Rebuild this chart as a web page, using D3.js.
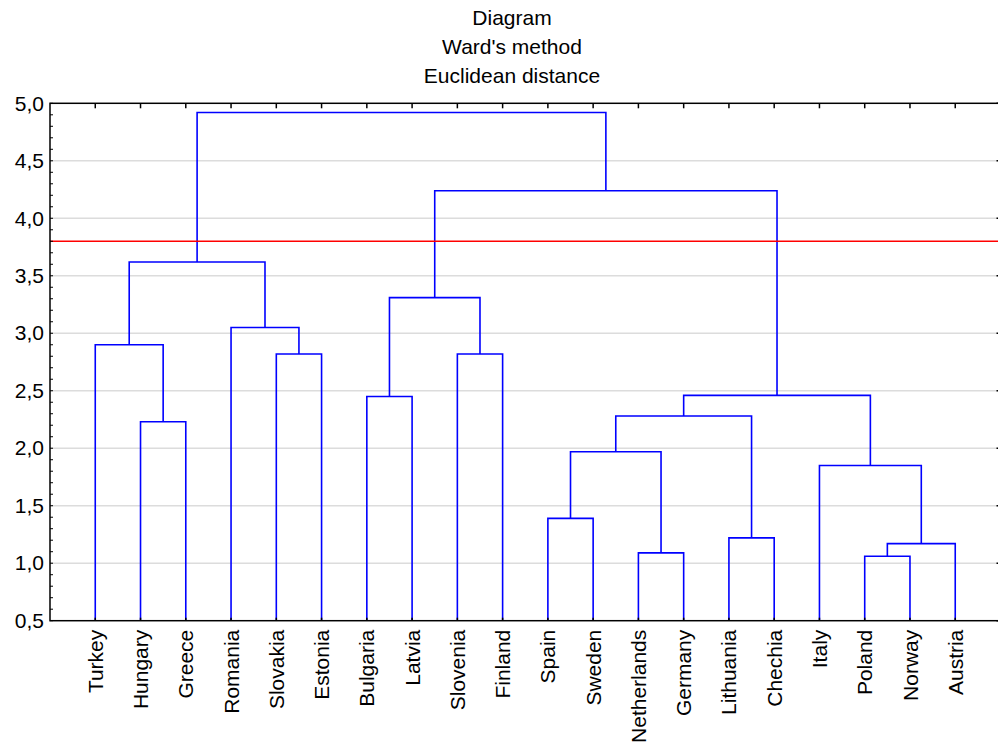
<!DOCTYPE html>
<html>
<head>
<meta charset="utf-8">
<script src="https://cdnjs.cloudflare.com/ajax/libs/d3/7.8.5/d3.min.js"></script>
<style>
  body { margin: 0; background: #fff; }
  svg { display: block; font-family: "Liberation Sans", Arial, sans-serif; }
</style>
</head>
<body>
<svg width="998" height="747"></svg>
<script>
// leaf order along the x axis
var leaves = ["Turkey", "Hungary", "Greece", "Romania", "Slovakia", "Estonia",
    "Bulgaria", "Latvia", "Slovenia", "Finland", "Spain", "Sweden",
    "Netherlands", "Germany", "Lithuania", "Chechia", "Italy", "Poland",
    "Norway", "Austria"];

// merges like R's hclust: negative = leaf (1-based), positive = earlier merge
var mergeLeft  = [-2, -1, -5, -4, 2, -7, -9, 6, -11, -13, 9, -15, 11, -18, 14, -17, 13, 8, 5];
var mergeRight = [-3,  1, -6,  3, 4, -8, -10, 7, -12, -14, 10, -16, 12, -19, -20, 15, 16, 17, 18];
var mergeHeight = [2.23, 2.90, 2.82, 3.05, 3.62, 2.45, 2.82, 3.31, 1.39, 1.09,
    1.97, 1.22, 2.28, 1.06, 1.17, 1.85, 2.46, 4.24, 4.92];

var cutHeight = 3.80;
var yTicks = [0.5, 1.0, 1.5, 2.0, 2.5, 3.0, 3.5, 4.0, 4.5, 5.0];
var titleLines = ["Diagram", "Ward's method", "Euclidean distance"];

var svg = d3.select("svg");
var plotLeft = 50, plotRight = 1000.5, plotTop = 103.3, plotBottom = 620.7;

var x = d3.scalePoint().domain(leaves).range([plotLeft, plotRight]).padding(1);
var y = d3.scaleLinear().domain([0.5, 5.0]).range([plotBottom, plotTop]);

// gridlines
svg.append("g")
    .selectAll("line")
    .data(yTicks.slice(1, -1))
    .enter().append("line")
    .attr("x1", plotLeft).attr("x2", plotRight)
    .attr("y1", d => y(d)).attr("y2", d => y(d))
    .attr("stroke", "#dcdcdc")
    .attr("stroke-width", 1.5);

// node positions: leaves first, then merges
var nodes = [];
function pos(id) {
    if (id < 0) return {x: x(leaves[-id - 1]), h: 0.5};
    return nodes[id - 1];
}
var links = [];
mergeHeight.forEach(function(h, i) {
    var a = pos(mergeLeft[i]), b = pos(mergeRight[i]);
    links.push({a: a, b: b, h: h});
    nodes.push({x: (a.x + b.x) / 2, h: h});
});

svg.append("g")
    .selectAll("path")
    .data(links)
    .enter().append("path")
    .attr("d", function(l) {
        return "M" + l.a.x + "," + y(l.a.h) + "V" + y(l.h) + "H" + l.b.x + "V" + y(l.b.h);
    })
    .attr("fill", "none")
    .attr("stroke", "#0000ff")
    .attr("stroke-width", 1.6);

// cut line
svg.append("line")
    .attr("x1", plotLeft).attr("x2", plotRight)
    .attr("y1", y(cutHeight)).attr("y2", y(cutHeight))
    .attr("stroke", "#ff0000")
    .attr("stroke-width", 1.6);

// y axis with minor ticks every 0.1
var yAxis = d3.axisLeft(y).tickValues(yTicks).tickSize(0).tickPadding(6)
    .tickFormat(d => d3.format(".1f")(d).replace(".", ","));
var ya = svg.append("g").attr("transform", "translate(" + plotLeft + ",0)").call(yAxis);
ya.select(".domain").remove();
ya.selectAll("text").attr("font-size", 21).attr("fill", "#000").attr("font-family", null);

var minor = d3.range(5, 51).map(d => d / 10);
svg.append("g")
    .selectAll("line")
    .data(minor)
    .enter().append("line")
    .attr("x1", plotLeft).attr("x2", plotLeft + 3)
    .attr("y1", d => y(d)).attr("y2", d => y(d))
    .attr("stroke", "#000").attr("stroke-width", 1);
svg.append("g")
    .selectAll("line")
    .data(yTicks)
    .enter().append("line")
    .attr("x1", plotRight - 4).attr("x2", plotRight)
    .attr("y1", d => y(d)).attr("y2", d => y(d))
    .attr("stroke", "#000").attr("stroke-width", 1.5);

// top and bottom ticks at leaves
svg.append("g")
    .selectAll("line")
    .data(leaves)
    .enter().append("line")
    .attr("x1", d => x(d)).attr("x2", d => x(d))
    .attr("y1", plotTop).attr("y2", plotTop + 5)
    .attr("stroke", "#000").attr("stroke-width", 1.5);
svg.append("g")
    .selectAll("line")
    .data(leaves)
    .enter().append("line")
    .attr("x1", d => x(d)).attr("x2", d => x(d))
    .attr("y1", plotBottom).attr("y2", plotBottom - 3)
    .attr("stroke", "#000").attr("stroke-width", 1.5);

// frame
svg.append("rect")
    .attr("x", plotLeft).attr("y", plotTop)
    .attr("width", plotRight - plotLeft).attr("height", plotBottom - plotTop)
    .attr("fill", "none").attr("stroke", "#000").attr("stroke-width", 1.5);

// leaf labels
svg.append("g")
    .selectAll("text")
    .data(leaves)
    .enter().append("text")
    .attr("transform", d => "translate(" + x(d) + "," + (plotBottom + 9) + ") rotate(-90)")
    .attr("text-anchor", "end")
    .attr("dy", "0.36em")
    .attr("font-size", 21)
    .text(d => d);

// title
svg.append("g")
    .selectAll("text")
    .data(titleLines)
    .enter().append("text")
    .attr("x", 512)
    .attr("y", (d, i) => 25 + i * 29)
    .attr("text-anchor", "middle")
    .attr("font-size", 21)
    .text(d => d);
</script>
</body>
</html>
